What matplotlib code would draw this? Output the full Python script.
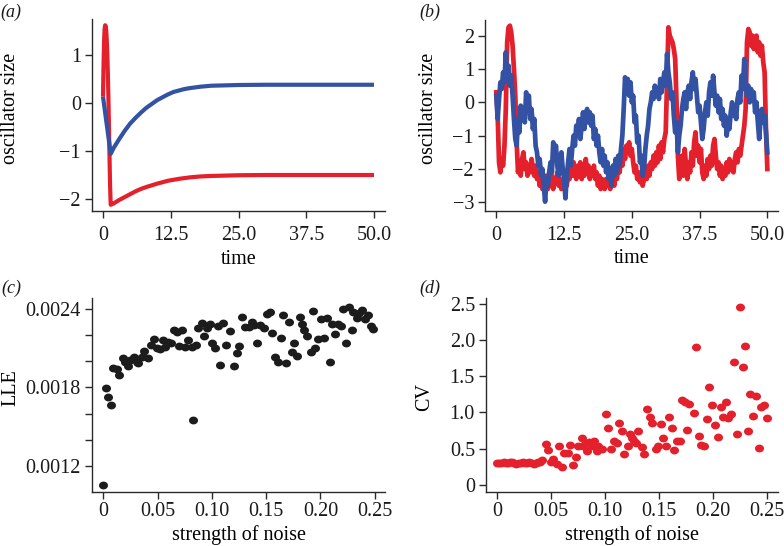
import numpy as np
import matplotlib
matplotlib.use('Agg')
import matplotlib.pyplot as plt
from matplotlib.path import Path

plt.rcParams['font.family'] = ['Liberation Serif', 'DejaVu Serif']

# ---------------- data ----------------
# (a) deterministic oscillators
time_a_red = [0, 0.1, 0.2, 0.3, 0.4, 0.5, 0.6, 0.7, 0.8, 0.9, 1.0, 1.1, 1.2, 1.3, 1.42,
              2, 3, 4, 5, 6, 7, 8, 10, 12, 14, 16, 18, 20, 25, 30, 40, 50]
red_a = [0.13, 0.8, 1.3, 1.55, 1.62, 1.6, 1.5, 1.3, 1.0, 0.6, 0.1, -0.5, -1.1, -1.7, -2.12,
         -2.09, -2.02, -1.96, -1.9, -1.84, -1.79, -1.75, -1.68, -1.62, -1.58, -1.55, -1.53,
         -1.52, -1.505, -1.5, -1.5, -1.5]
time_a_blue = [0, 1.42, 2, 3, 4, 5, 6, 7, 8, 9, 10, 11, 12, 13, 14, 15, 16, 18, 20, 25, 30, 50]
blue_a = [0.13, -1.06, -0.93, -0.75, -0.58, -0.43, -0.31, -0.2, -0.1, -0.02, 0.06, 0.12,
          0.18, 0.23, 0.26, 0.29, 0.31, 0.34, 0.36, 0.375, 0.38, 0.38]

# (b) noisy oscillators, sampled every 0.25 time units from 0 to 50
red_b = [0.3, -0.4, -1.8, -2.1, -1.7, -1.9, -1.3, -0.2, 1.8, 2.25,
         2.3, 2.1, 1.7, 1.0, 0.2, -1.2, -2.1, -1.8, -2.2, -1.7,
         -1.5, -2.0, -1.8, -2.2, -1.9, -2.1, -1.7, -2.0, -2.2, -1.9,
         -2.3, -2.1, -2.5, -2.2, -2.6, -2.3, -2.5, -2.2, -2.6, -2.3,
         -2.5, -2.2, -2.6, -2.3, -2.4, -2.1, -2.5, -2.3, -2.6, -2.4,
         -2.6, -2.3, -2.5, -2.1, -2.3, -1.9, -2.2, -1.8, -2.1, -2.3,
         -1.9, -2.2, -1.8, -2.3, -2.0, -2.2, -1.7, -2.1, -1.9, -2.3,
         -2.0, -2.2, -1.9, -2.3, -2.1, -2.5, -2.2, -2.6, -2.3, -2.5,
         -2.6, -2.3, -2.5, -2.2, -2.6, -2.4, -2.2, -2.5, -2.1, -2.3,
         -1.9, -2.1, -1.6, -1.9, -1.4, -1.7, -1.3, -1.5, -1.2, -1.6,
         -1.4, -1.8, -2.1, -1.9, -2.3, -2.1, -2.4, -2.2, -2.5, -2.3,
         -2.1, -2.3, -1.9, -2.2, -1.8, -2.0, -1.6, -1.9, -1.5, -1.8,
         -1.3, -1.7, -1.2, -1.5, -1.1, -0.9, 0.6, 2.25, 2.0, 1.9,
         1.8, 1.6, 1.3, 0.0, -1.6, -2.3, -2.0, -1.6, -2.2, -1.4,
         -1.9, -2.3, -1.8, -2.1, -1.5, -1.9, -1.2, -0.9, -1.6, -1.3,
         -1.8, -1.4, -2.1, -2.3, -1.9, -2.2, -1.7, -2.0, -1.6, -1.9,
         -1.3, -1.1, -1.6, -2.0, -1.8, -2.2, -1.9, -2.3, -2.0, -2.2,
         -1.8, -2.1, -1.7, -2.0, -1.8, -2.1, -1.7, -1.5, -1.8, -1.4,
         -1.6, -1.3, -1.0, -0.7, -0.2, 1.8, 2.2, 2.1, 1.7, 2.0,
         1.6, 1.9, 2.0, 1.5, 1.8, 1.4, 1.7, 1.2, 0.9, -0.8,
         -2.0]
blue_b = [0.2, -0.5, 0.1, 0.6, 0.4, 0.9, 0.6, 1.5, 0.7, 1.1,
          0.5, 0.8, 0.2, -0.5, -1.1, -1.3, -0.5, -0.9, -0.1, -0.5,
          -0.2, -0.6, 0.3, -0.1, 0.2, -0.5, -0.2, -0.8, -0.5, -1.3,
          -1.5, -1.9, -1.7, -2.2, -2.0, -2.5, -2.98, -2.3, -2.5, -2.1,
          -1.8, -2.1, -1.2, -1.6, -1.3, -1.9, -2.2, -1.7, -1.5, -2.0,
          -2.3, -2.88, -2.2, -1.8, -1.4, -1.9, -1.4, -1.0, -1.3, -0.7,
          -0.9, -0.5, -1.1, -0.7, -0.3, -0.8, -0.4, -0.2, -0.6, -0.3,
          -0.7, -0.4, -1.1, -0.8, -1.3, -1.0, -1.5, -1.8, -1.4, -1.9,
          -1.6, -2.1, -1.8, -2.3, -2.0, -2.5, -1.9, -2.2, -1.7, -2.1,
          -1.6, -1.9, -1.4, -1.0, -0.2, 0.75, 0.5, 0.7, 0.2, 0.6,
          0.0, 0.2, -0.6, -0.4, -1.2, -1.0, -1.8, -1.6, -2.2, -2.0,
          -1.4, -1.0, -0.7, -0.2, 0.0, 0.3, 0.1, 0.5, 0.2, 0.4,
          0.1, 0.7, 0.3, 0.6, 0.9, 0.5, 1.45, 0.9, 0.6, 0.1,
          0.3, -0.4, -0.9, -0.6, -1.5, -1.0, -0.7, -0.2, 0.1, 0.3,
          -0.2, 0.3, 0.5, 0.1, 0.6, 0.9, 0.4, 0.7, 0.2, -0.3,
          -0.1, -0.6, -1.1, -0.8, -0.3, 0.0, -0.4, 0.3, 0.6, 0.2,
          0.8, 0.3, -0.1, 0.2, -0.3, 0.1, -0.5, -0.2, -0.7, -0.4,
          -1.0, -0.6, -0.8, -0.3, 0.0, -0.4, -0.1, -0.5, 0.1, 0.3,
          0.0, 0.8, 0.4, 1.3, 0.6, 0.2, 0.5, 0.0, 0.4, 0.1,
          0.3, -0.3, 0.0, -0.6, -1.1, -0.5, -0.2, -0.6, -0.4, -0.9,
          -1.5]
time_b = np.linspace(0, 50, len(red_b))

# (c) largest Lyapunov exponent vs noise strength
noise_c = [0.0, 0.00215, 0.00461, 0.00706, 0.00921, 0.01229, 0.01474, 0.01843, 0.01996, 0.02303,
           0.02457, 0.02856, 0.03071, 0.03225, 0.03532, 0.03778, 0.04146, 0.04392, 0.04699, 0.04914,
           0.05221, 0.05528, 0.05682, 0.05989, 0.06235, 0.06511, 0.06757, 0.06972, 0.07279, 0.07525,
           0.0777, 0.08139, 0.08293, 0.08508, 0.08753, 0.0906, 0.09306, 0.09521, 0.09828, 0.09982,
           0.10289, 0.10535, 0.1078, 0.11057, 0.11302, 0.11671, 0.1207, 0.12285, 0.125, 0.1275,
           0.13053, 0.13422, 0.13667, 0.13913, 0.14128, 0.14435, 0.14834, 0.15049, 0.15357, 0.15571,
           0.15817, 0.16063, 0.16339, 0.16585, 0.168, 0.17107, 0.17353, 0.17599, 0.17814, 0.18121,
           0.18274, 0.1852, 0.18735, 0.19134, 0.19349, 0.19503, 0.1981, 0.20056, 0.20363, 0.20578,
           0.20885, 0.211, 0.21346, 0.21653, 0.21898, 0.22113, 0.22359, 0.22636, 0.22881, 0.23035,
           0.23342, 0.23557, 0.23864, 0.2411, 0.24417, 0.24663, 0.24878]
lle_c = [0.001052, 0.001797, 0.001731, 0.001665, 0.001946, 0.00194, 0.001894, 0.002022, 0.001997, 0.001966,
         0.002009, 0.00203, 0.001997, 0.001984, 0.002035, 0.002078, 0.002022, 0.002124, 0.00217, 0.002104,
         0.002094, 0.002163, 0.002111, 0.00215, 0.002137, 0.002239, 0.002221, 0.002119, 0.002239, 0.002111,
         0.002163, 0.002111, 0.00155, 0.002124, 0.002252, 0.00229, 0.002196, 0.002252, 0.002283, 0.002137,
         0.002099, 0.002272, 0.001971, 0.00229, 0.002124, 0.002231, 0.001966, 0.00206, 0.002119, 0.002341,
         0.002265, 0.00226, 0.002303, 0.002277, 0.002137, 0.002277, 0.002252, 0.002359, 0.002374, 0.002214,
         0.002035, 0.001997, 0.00218, 0.002354, 0.001984, 0.002303, 0.002068, 0.002137, 0.002043, 0.002341,
         0.002283, 0.002239, 0.002196, 0.002068, 0.002385, 0.002099, 0.00217, 0.002323, 0.00218, 0.002329,
         0.001991, 0.002283, 0.002206, 0.002283, 0.002272, 0.0024, 0.002137, 0.002418, 0.002239, 0.00238,
         0.002334, 0.002367, 0.002392, 0.002323, 0.002354, 0.002272, 0.002247]

# (d) coefficient of variation vs noise strength
noise_d = [0.0, 0.002, 0.004, 0.006, 0.008, 0.010, 0.012, 0.014, 0.016, 0.018,
           0.020, 0.022, 0.024, 0.026, 0.028, 0.030, 0.032, 0.034, 0.036, 0.038,
           0.040, 0.04192, 0.045, 0.04747, 0.04963, 0.0521, 0.05518, 0.05734, 0.06042, 0.06227,
           0.06535, 0.06751, 0.07059, 0.07306, 0.07522, 0.0783, 0.07922, 0.08138, 0.08292, 0.08539,
           0.08755, 0.09001, 0.09217, 0.09371, 0.09679, 0.10049, 0.10296, 0.10542, 0.1082, 0.11067,
           0.11313, 0.11529, 0.11776, 0.12084, 0.123, 0.125, 0.127, 0.129, 0.1307, 0.13378,
           0.13625, 0.13902, 0.14149, 0.14365, 0.14673, 0.1492, 0.15166, 0.15382, 0.15629, 0.15906,
           0.16153, 0.16399, 0.16615, 0.16923, 0.17139, 0.17447, 0.17756, 0.1763, 0.18218, 0.18434,
           0.1868, 0.18927, 0.19174, 0.19451, 0.19667, 0.19914, 0.20222, 0.20469, 0.20715, 0.20931,
           0.21177, 0.21393, 0.21702, 0.21948, 0.22226, 0.22472, 0.2275, 0.22935, 0.23243, 0.23459,
           0.23736, 0.24014, 0.24261, 0.24476, 0.24723, 0.2503]
cv_d = [0.30, 0.30, 0.30, 0.31, 0.30, 0.30, 0.31, 0.31, 0.30, 0.29,
        0.30, 0.30, 0.31, 0.30, 0.30, 0.31, 0.30, 0.29, 0.30, 0.31,
        0.32, 0.34, 0.57, 0.48, 0.32, 0.35, 0.29, 0.54, 0.25, 0.44,
        0.44, 0.55, 0.27, 0.38, 0.53, 0.64, 0.53, 0.57, 0.46, 0.59,
        0.53, 0.61, 0.46, 0.53, 0.50, 0.98, 0.78, 0.50, 0.60, 0.58,
        0.85, 0.74, 0.42, 0.53, 0.70, 0.65, 0.61, 0.58, 0.74, 0.52,
        0.42, 1.05, 0.93, 0.85, 0.50, 0.54, 0.84, 0.64, 0.53, 0.94,
        0.78, 0.48, 0.60, 0.61, 1.17, 1.14, 1.11, 0.75, 0.99, 1.90,
        0.67, 0.55, 0.53, 0.91, 1.35, 1.10, 0.83, 0.66, 1.07, 0.93,
        1.15, 0.92, 0.98, 1.70, 0.70, 2.45, 1.63, 1.92, 0.74, 1.25,
        0.95, 1.22, 0.51, 1.07, 1.10, 0.92]

RED = '#e3202b'
BLUE = '#3452a4'
INK = '#2a2a2a'
TICK_FS = 14.5
LABEL_FS = 14.5

# slightly flattened dot marker (as in the reference)
theta = np.linspace(0, 2 * np.pi, 60)
ellipse = Path(np.column_stack([1.15 * np.cos(theta), np.sin(theta)]), closed=True)

fig = plt.figure(figsize=(7.84, 5.46), dpi=100)
W, H = 784.0, 546.0


def add_axes(l, r, t, b):
    return fig.add_axes([l / W, 1 - b / H, (r - l) / W, (b - t) / H])


def style(ax, xpad):
    for s in ['top', 'right']:
        ax.spines[s].set_visible(False)
    for s in ['left', 'bottom']:
        ax.spines[s].set_color(INK)
        ax.spines[s].set_linewidth(1.0)
    ax.tick_params(direction='out', length=5, width=1, color=INK,
                   labelsize=TICK_FS, labelcolor='#1a1a1a')
    ax.tick_params(axis='x', pad=xpad)
    ax.tick_params(axis='y', pad=3)


axA = add_axes(92, 385, 19, 211)
axB = add_axes(485, 778, 20, 211)
axC = add_axes(92, 385, 298, 492)
axD = add_axes(486, 778, 298, 492)

# (a)
axA.plot(time_a_red, red_a, color=RED, lw=3, solid_capstyle='butt', solid_joinstyle='round')
axA.plot(time_a_blue, blue_a, color=BLUE, lw=3, solid_capstyle='butt', solid_joinstyle='round')
axA.set_xlim(-2.03, 52.03)
axA.set_ylim(-2.25, 1.75)
axA.set_xticks([0, 12.5, 25, 37.5, 50])
axA.set_xticklabels(['0', '12.5', '25.0', '37.5', '50.0'])
axA.set_yticks([-2, -1, 0, 1])
style(axA, 6)
axA.set_xlabel('time', fontsize=LABEL_FS)
axA.set_ylabel('oscillator size', fontsize=LABEL_FS)
axA.xaxis.set_label_coords(0.5, -0.205)
axA.yaxis.set_label_coords(-0.245, 0.535)

# (b)
axB.plot(time_b, red_b, color=RED, lw=3.4, solid_joinstyle='round')
axB.plot(time_b, blue_b, color=BLUE, lw=3.4, solid_joinstyle='round')
axB.set_xlim(-2.09, 51.97)
axB.set_ylim(-3.26, 2.47)
axB.set_xticks([0, 12.5, 25, 37.5, 50])
axB.set_xticklabels(['0', '12.5', '25.0', '37.5', '50.0'])
axB.set_yticks([-3, -2, -1, 0, 1, 2])
style(axB, 6)
axB.set_xlabel('time', fontsize=LABEL_FS)
axB.set_ylabel('oscillator size', fontsize=LABEL_FS)
axB.xaxis.set_label_coords(0.5, -0.2)
axB.yaxis.set_label_coords(-0.16, 0.535)

# (c)
axC.scatter(noise_c, lle_c, s=42, marker=ellipse, color='#1c1c1c', linewidths=0)
axC.set_xlim(-0.0104, 0.2595)
axC.set_ylim(0.001001, 0.002484)
axC.set_xticks([0, 0.05, 0.10, 0.15, 0.20, 0.25])
axC.set_xticklabels(['0', '0.05', '0.10', '0.15', '0.20', '0.25'])
axC.set_yticks([0.0012, 0.0014, 0.0016, 0.0018, 0.0020, 0.0022, 0.0024])
axC.set_yticklabels(['0.0012', '', '', '0.0018', '', '', '0.0024'])
style(axC, 2)
axC.set_xlabel('strength of noise', fontsize=LABEL_FS)
axC.set_ylabel('LLE', fontsize=LABEL_FS)
axC.xaxis.set_label_coords(0.5, -0.17)
axC.yaxis.set_label_coords(-0.243, 0.54)

# (d)
axD.scatter(noise_d, cv_d, s=42, marker=ellipse, color=RED, linewidths=0)
axD.set_xlim(-0.0102, 0.2601)
axD.set_ylim(-0.1, 2.58)
axD.set_xticks([0, 0.05, 0.10, 0.15, 0.20, 0.25])
axD.set_xticklabels(['0', '0.05', '0.10', '0.15', '0.20', '0.25'])
axD.set_yticks([0, 0.5, 1.0, 1.5, 2.0, 2.5])
axD.set_yticklabels(['0', '0.5', '1.0', '1.5', '2.0', '2.5'])
style(axD, 2)
axD.set_xlabel('strength of noise', fontsize=LABEL_FS)
axD.set_ylabel('CV', fontsize=LABEL_FS)
axD.xaxis.set_label_coords(0.5, -0.17)
axD.yaxis.set_label_coords(-0.178, 0.49)

# panel letters
for txt, x, y in [('(a)', 0, 12), ('(b)', 419, 12), ('(c)', 1, 288), ('(d)', 419, 288)]:
    fig.text(x / W, 1 - y / H, txt, fontsize=13, style='italic', ha='left', va='center',
             color='#1a1a1a')

fig.savefig('out.png', dpi=100)
